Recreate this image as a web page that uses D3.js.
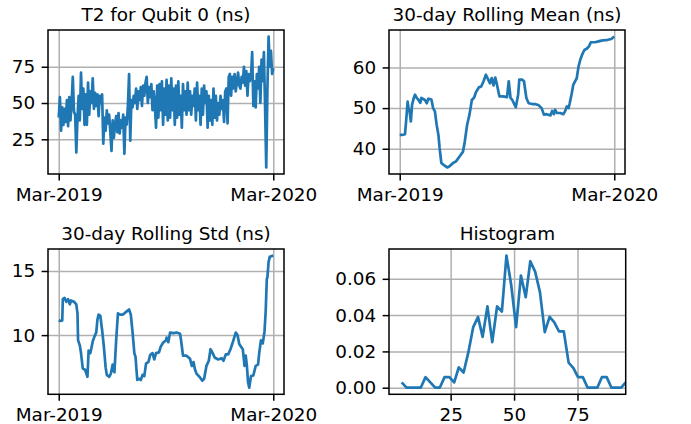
<!DOCTYPE html>
<html>
<head>
<meta charset="utf-8">
<script src="https://cdn.jsdelivr.net/npm/d3@7"></script>
<style>
  html, body { margin: 0; padding: 0; background: #ffffff; }
  svg { display: block; }
  text { font-family: "DejaVu Sans", sans-serif; }
</style>
</head>
<body>
<svg id="chart" width="691" height="424"></svg>
<script>
// ---- data ---------------------------------------------------------------
const startDate = "2019-03-01";
const endDate = "2020-03-01";
const dateTickLabels = ["Mar-2019", "Mar-2020"];

// daily T2 readings (ns), one every 2 days from startDate
const t2StepDays = 2;
const t2Values = [
  40, 54, 31, 47, 35, 46, 37, 52, 34, 54,
  38, 50, 68, 44, 42, 16, 40, 55, 38, 71,
  46, 60, 35, 56, 35, 64, 42, 58, 50, 67,
  46, 57, 48, 56, 41, 55, 50, 56, 22, 40,
  31, 45, 36, 42, 30, 17, 38, 26, 35, 41,
  30, 43, 29, 38, 33, 42, 15, 40, 35, 48,
  70, 24, 52, 47, 55, 50, 60, 46, 58, 52,
  61, 48, 62, 55, 64, 68, 50, 61, 54, 63,
  45, 58, 48, 33, 62, 40, 63, 45, 65, 35,
  60, 42, 66, 38, 62, 40, 67, 45, 60, 35,
  62, 40, 65, 42, 55, 33, 63, 45, 58, 42,
  64, 45, 58, 42, 55, 48, 60, 38, 64, 45,
  55, 35, 60, 42, 62, 50, 58, 33, 55, 38,
  52, 35, 60, 40, 55, 38, 50, 42, 55, 46,
  52, 37, 58, 60, 36, 68, 70, 55, 68, 60,
  70, 58, 65, 71, 62, 60, 68, 64, 75, 62,
  72, 55, 70, 65, 68, 85, 48, 65, 47, 70,
  60, 75, 50, 80, 65, 85, 48, 5.6, 60, 95.8,
  75, 86, 70, 74
];

// 30-day rolling mean (ns): day offset from startDate, value
const meanDays = [
  0, 4, 9, 11, 13.5, 15, 17, 19, 21, 24, 26, 29, 32, 35, 37, 43, 46, 49, 54, 57,
  60, 63, 66, 68, 71, 76, 81, 85, 91, 96, 102, 108, 111, 115, 119, 123, 127, 130, 135, 139,
  143, 147, 151, 154, 157, 160, 163, 166, 170, 176, 183, 186, 189, 192, 196, 198, 202, 204, 209, 212,
  216, 220, 226, 231, 237, 242, 246, 251, 257, 260, 263, 265, 268, 274, 279, 282, 285, 288, 290, 293,
  296, 302, 305, 308, 311, 315, 319, 323, 326, 333, 339, 344, 350, 355, 361, 366
];
const meanValues = [
  43.4, 43.4, 43.6, 47, 51.6, 50, 49, 46.7, 50.8, 52.5, 53.3, 52.5, 52, 51.3, 52.5, 52, 51.2, 52.3, 52.1, 50,
  49.2, 45.9, 43.4, 40.2, 36.5, 35.9, 35.4, 35.7, 36.5, 36.9, 38.1, 39.3, 41.8, 45.9, 48.4, 52, 52.6, 53.9, 55.1, 55.3,
  56.6, 58.2, 57, 56.1, 57.4, 55.6, 57.5, 55.7, 52.9, 52.9, 52.7, 56.6, 52.5, 52, 50.8, 50.2, 53.3, 57, 57, 56.6,
  52.5, 51.2, 51, 51, 50.7, 50, 48.4, 48.5, 48.2, 49.3, 48.5, 49.6, 48.8, 48.8, 48.5, 49.2, 50.4, 50, 51.2, 53.3,
  55.7, 57.4, 60.2, 61.9, 63.1, 64.3, 64.6, 65.2, 66.2, 66.2, 66.4, 66.6, 66.7, 66.8, 67, 67.6
];

// 30-day rolling standard deviation (ns): day offset from startDate, value
const stdDays = [
  0, 3, 6, 7, 10, 13, 16, 19, 21, 26, 30, 32, 33, 36, 38, 41, 45, 49, 51, 54,
  58, 61, 64, 66, 68, 71, 74, 77, 80, 82, 86, 89, 92, 95, 98, 101, 105, 109, 112, 116,
  120, 123, 126, 129, 131, 134, 137, 140, 143, 146, 149, 153, 156, 160, 163, 166, 171, 174, 178, 183,
  184, 187, 190, 196, 201, 207, 209, 212, 218, 224, 227, 230, 232, 235, 241, 245, 248, 252, 256, 259,
  262, 266, 272, 278, 281, 285, 289, 293, 297, 302, 305, 308, 311, 314, 317, 319, 321, 323, 325, 328,
  332, 336, 340, 342, 345, 348, 351, 353, 355, 356, 358, 360, 366
];
const stdValues = [
  11.15, 11.1, 11.15, 12.8, 12.9, 12.6, 12.8, 12.4, 12.7, 12.6, 12.4, 11.7, 9.6, 9.2, 8.6, 7.4, 7.3, 6.75, 8.8, 8.6,
  9.5, 9.9, 10.2, 11.2, 11.6, 11.5, 10.4, 9.1, 7.5, 6.9, 6.75, 7.0, 7.7, 7.1, 9.6, 11.7, 11.6, 11.6, 11.7, 11.85,
  12.0, 11.6, 10.2, 8.6, 8.3, 6.5, 6.6, 6.5, 6.9, 6.8, 7.8, 7.9, 8.45, 8.6, 8.1, 8.6, 8.65, 9.1, 9.4, 9.6,
  9.8, 9.45, 10.2, 10.15, 10.2, 10.1, 9.5, 8.4, 8.4, 8.15, 7.6, 7.9, 7.4, 7.0, 6.7, 6.45, 6.6, 7.6, 8.0, 8.9,
  8.65, 8.25, 8.1, 8.2, 8.0, 8.5, 8.5, 8.9, 9.45, 10.2, 10.0, 9.3, 9.1, 8.9, 7.6, 8.4, 7.6, 6.3, 5.9, 6.8,
  6.85, 7.6, 7.7, 8.6, 9.6, 9.35, 10.25, 11.8, 14.4, 14.5, 15.7, 16.1, 16.2
];

// histogram of T2 (density per bin)
const histCenters = [
  5.7, 7.6, 9.5, 11.3, 13.2, 15.1, 17.0, 18.9, 20.7, 22.6,
  24.5, 26.4, 28.2, 30.1, 32.0, 33.9, 35.8, 37.6, 39.5, 41.4,
  43.3, 45.2, 47.0, 48.9, 50.8, 52.7, 54.6, 56.4, 58.3, 60.2,
  62.1, 64.0, 65.8, 67.7, 69.6, 71.5, 73.4, 75.2, 77.1, 79.0,
  80.9, 82.8, 84.6, 86.5, 88.4, 90.3, 92.2, 94.0
];
const histDensity = [
  0.0029, 0, 0, 0, 0, 0.0058, 0.0029, 0, 0, 0.0058,
  0.0058, 0.0029, 0.0112, 0.0084, 0.0196, 0.0334, 0.039, 0.028, 0.0448, 0.0251,
  0.0448, 0.042, 0.0728, 0.0563, 0.0334, 0.0618, 0.0499, 0.0697, 0.064, 0.0527,
  0.0306, 0.039, 0.0361, 0.031, 0.031, 0.0138, 0.0108, 0.0058, 0.0058, 0,
  0, 0, 0.0058, 0.0058, 0, 0, 0, 0.0029
];

// ---- helpers ------------------------------------------------------------
const parse = d3.utcParse("%Y-%m-%d");
const t0 = parse(startDate);
const t1 = parse(endDate);
const addDays = (d) => new Date(t0.getTime() + d * 864e5);

const FONT = 18.4;
const LINE = "#1f77b4";
const GRID = "#b0b0b0";
const TICK = 6.4, PAD = 6.4;

const svg = d3.select("#chart");

function padded(lo, hi, frac = 0.05) {
  const r = hi - lo;
  return [lo - r * frac, hi + r * frac];
}

function timeScale() {
  const span = t1 - t0;
  return d3.scaleUtc()
    .domain([new Date(t0.getTime() - span * 0.05), new Date(t1.getTime() + span * 0.05)]);
}

function panel(cfg) {
  const { left, top, width, height, x, y, xTicks, xFormat, yTicks, yFormat, title, points } = cfg;
  const g = svg.append("g").attr("transform", `translate(${left},${top})`);
  x.range([0, width]);
  y.range([height, 0]);

  const clipId = "clip-" + Math.round(left) + "-" + Math.round(top);
  g.append("clipPath").attr("id", clipId)
    .append("rect").attr("width", width).attr("height", height);

  // grid
  const gridX = g.append("g").attr("transform", `translate(0,${height})`)
    .call(d3.axisBottom(x).tickValues(xTicks).tickSize(-height).tickFormat(""));
  const gridY = g.append("g")
    .call(d3.axisLeft(y).tickValues(yTicks).tickSize(-width).tickFormat(""));
  [gridX, gridY].forEach(a => {
    a.select(".domain").remove();
    a.selectAll("line").attr("stroke", GRID).attr("stroke-width", 1.5);
  });

  // series
  const line = d3.line().x(d => x(d[0])).y(d => y(d[1]));
  g.append("path")
    .datum(points)
    .attr("clip-path", `url(#${clipId})`)
    .attr("fill", "none")
    .attr("stroke", LINE)
    .attr("stroke-width", 2.7)
    .attr("stroke-linejoin", "round")
    .attr("d", line);

  // axes with tick marks and labels
  const ax = g.append("g").attr("transform", `translate(0,${height})`)
    .call(d3.axisBottom(x).tickValues(xTicks).tickFormat(xFormat).tickSize(TICK).tickPadding(PAD + 1));
  const ay = g.append("g")
    .call(d3.axisLeft(y).tickValues(yTicks).tickFormat(yFormat).tickSize(TICK).tickPadding(PAD));
  [ax, ay].forEach(a => {
    a.select(".domain").remove();
    a.selectAll("line").attr("stroke", "#000").attr("stroke-width", 1.5);
    a.selectAll("text").attr("fill", "#000")
      .style("font-family", '"DejaVu Sans", sans-serif')
      .style("font-size", FONT + "px");
  });

  // frame
  g.append("rect")
    .attr("width", width).attr("height", height)
    .attr("fill", "none").attr("stroke", "#000").attr("stroke-width", 1.5);

  g.append("text")
    .attr("x", width / 2).attr("y", -9)
    .attr("text-anchor", "middle")
    .attr("fill", "#000")
    .style("font-size", FONT + "px")
    .text(title);
}

const dateTicks = [t0, t1];
const dateFmt = (d, i) => dateTickLabels[i];

// T2 series
const t2Points = t2Values.map((v, i) => [addDays(i * t2StepDays), v]);
panel({
  left: 48, top: 30, width: 236, height: 144,
  x: timeScale(), y: d3.scaleLinear().domain(padded(d3.min(t2Values), d3.max(t2Values))),
  xTicks: dateTicks, xFormat: dateFmt,
  yTicks: [25, 50, 75], yFormat: d3.format("d"),
  title: "T2 for Qubit 0 (ns)", points: t2Points
});

// rolling mean
panel({
  left: 389, top: 30, width: 236, height: 144,
  x: timeScale(), y: d3.scaleLinear().domain(padded(d3.min(meanValues), d3.max(meanValues))),
  xTicks: dateTicks, xFormat: dateFmt,
  yTicks: [40, 50, 60], yFormat: d3.format("d"),
  title: "30-day Rolling Mean (ns)", points: meanDays.map((d, i) => [addDays(d), meanValues[i]])
});

// rolling std
panel({
  left: 48, top: 249, width: 236, height: 145.3,
  x: timeScale(), y: d3.scaleLinear().domain(padded(d3.min(stdValues), d3.max(stdValues))),
  xTicks: dateTicks, xFormat: dateFmt,
  yTicks: [10, 15], yFormat: d3.format("d"),
  title: "30-day Rolling Std (ns)", points: stdDays.map((d, i) => [addDays(d), stdValues[i]])
});

// histogram
panel({
  left: 389, top: 249, width: 236.7, height: 145.3,
  x: d3.scaleLinear().domain([0.7, 94.0]),
  y: d3.scaleLinear().domain(padded(0, d3.max(histDensity))),
  xTicks: [25, 50, 75], xFormat: d3.format("d"),
  yTicks: [0, 0.02, 0.04, 0.06], yFormat: d3.format(".2f"),
  title: "Histogram", points: histCenters.map((c, i) => [c, histDensity[i]])
});
</script>
</body>
</html>
